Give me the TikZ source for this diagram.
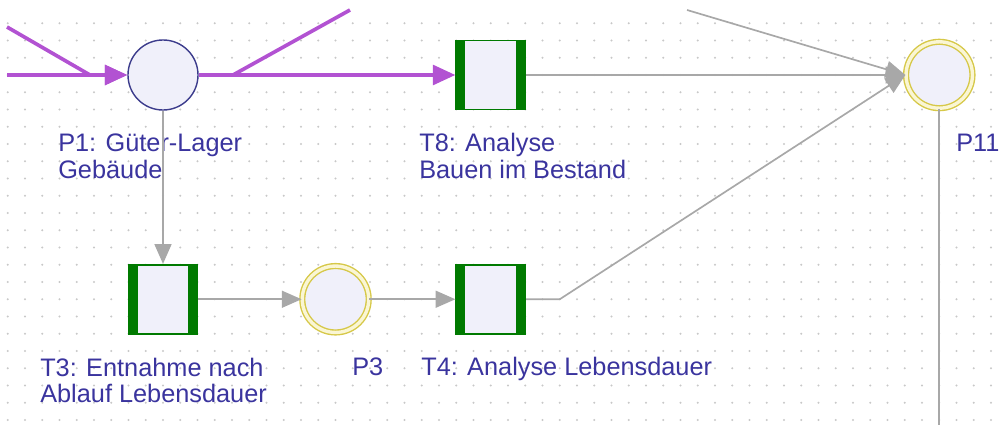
\documentclass[tikz,border=0pt]{standalone}
\usepackage{fontspec}
\setmainfont{Liberation Sans}
\usetikzlibrary{arrows.meta}

\definecolor{pviolet}{RGB}{178,82,210}
\definecolor{tgreen}{RGB}{0,122,0}
\definecolor{tfill}{RGB}{240,240,250}
\definecolor{pblue}{RGB}{60,60,140}
\definecolor{txtblue}{RGB}{58,52,158}
\definecolor{ygold}{RGB}{214,200,72}
\definecolor{ypale}{RGB}{250,246,212}
\definecolor{arcgray}{RGB}{168,168,168}
\definecolor{dotgray}{RGB}{200,200,200}

\tikzset{
    place/.style={circle, draw=pblue, line width=1pt, fill=tfill, minimum size=1.75cm, inner sep=0pt},
    dplace/.style={circle, draw=ygold, line width=1pt, double=ypale, double distance=2.4pt, fill=tfill, minimum size=1.66cm, inner sep=0pt},
    trans/.style={rectangle, draw=tgreen, line width=1.2pt, fill=tfill, minimum width=1.725cm, minimum height=1.725cm, inner sep=0pt,
        path picture={
            \fill[tgreen] (path picture bounding box.north west) rectangle ([xshift=0.23cm]path picture bounding box.south west);
            \fill[tgreen] (path picture bounding box.north east) rectangle ([xshift=-0.23cm]path picture bounding box.south east);
        }},
    lbl/.style={anchor=base west, inner sep=0pt, align=left, text=txtblue, font=\fontsize{18}{19.2}\selectfont},
    arc/.style={draw=arcgray, line width=1.2pt, -{Triangle[length=14pt,width=12pt]}},
    arcline/.style={draw=arcgray, line width=1.2pt},
    flow/.style={draw=pviolet, line width=2.6pt, -{Triangle[length=16pt,width=14pt]}},
    flowline/.style={draw=pviolet, line width=2.6pt},
}

\begin{document}
\begin{tikzpicture}[x=0.025cm, y=-0.025cm]
    \useasboundingbox (0,0) rectangle (1000,425);

    % Raster
    \foreach \i in {0,...,57} {
        \foreach \j in {1,...,24} {
            \fill[dotgray] (7.75+17.25*\i, 6+17.25*\j) circle (0.8pt);
        }
    }

    % Stellen und Transitionen
    \node[place] (p1) at (163,75) {};
    \node[trans] (t8) at (490.75,75) {};
    \node[dplace] (p11) at (939.25,75) {};
    \node[trans] (t3) at (163,299.25) {};
    \node[dplace] (p3) at (335.5,299.25) {};
    \node[trans] (t4) at (490.75,299.25) {};

    % Beschriftungen (Grundlinie der letzten Zeile)
    \node[lbl] (lp1) at (58,179) {P1: Güter-Lager\\Gebäude};
    \node[lbl] (lt8) at (419,179) {T8: Analyse\\Bauen im Bestand};
    \node[lbl] (lp11) at (956,152) {P11};
    \node[lbl] (lt3) at (40,403) {T3: Entnahme nach\\Ablauf Lebensdauer};
    \node[lbl] (lp3) at (352,376) {P3};
    \node[lbl] (lt4) at (421,376) {T4: Analyse Lebensdauer};

    % Hilfspunkte
    \coordinate (inA) at (7,27);
    \coordinate (mergeA) at (90,75);
    \coordinate (inB) at (7,75);
    \coordinate (forkB) at (233,75);
    \coordinate (outB) at (350,10);
    \coordinate (inC) at (687,10);
    \coordinate (bendT4) at (559.75,299.25);
    \coordinate (downP11) at (939.25,425);

    % Kanten
    \draw[flow] (inB) -- (p1);
    \draw[flow] (inA) -- (mergeA) -- (p1);
    \draw[flow] (p1) -- (t8);
    \draw[flowline] (forkB) -- (outB);
    \draw[arc] (p1) -- (t3);
    \draw[arc] (t3) -- (p3);
    \draw[arc] (p3) -- (t4);
    \draw[arc] (t8) -- (p11);
    \draw[arc] (inC) -- (p11.west);
    \draw[arc] (t4) -- (bendT4) -- (p11.west);
    \draw[arcline] (p11) -- (downP11);

\end{tikzpicture}
\end{document}
